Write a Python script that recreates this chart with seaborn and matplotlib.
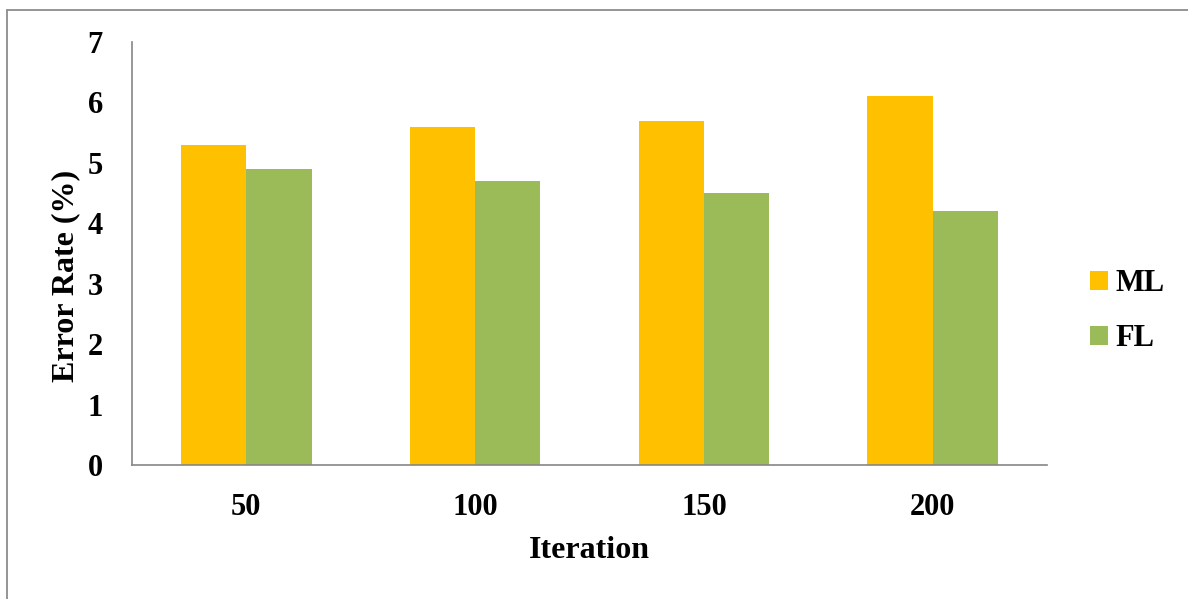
import matplotlib
matplotlib.use("Agg")
import matplotlib.pyplot as plt
import seaborn as sns
import pandas as pd
from matplotlib.patches import Patch
from matplotlib.lines import Line2D

iterations = ["50", "100", "150", "200"]
ml_error = [5.3, 5.6, 5.7, 6.1]
fl_error = [4.9, 4.7, 4.5, 4.2]
series_names = ["ML", "FL"]
y_ticks = [0, 1, 2, 3, 4, 5, 6, 7]

df = pd.DataFrame({
    "Iteration": iterations * 2,
    "Error": ml_error + fl_error,
    "Model": [series_names[0]] * 4 + [series_names[1]] * 4,
})

sns.set_style("white")
plt.rcParams["font.family"] = ["Liberation Serif", "DejaVu Serif"]
plt.rcParams["font.weight"] = "bold"
plt.rcParams["text.color"] = "black"
plt.rcParams["axes.labelcolor"] = "black"

palette = {"ML": "#FFC000", "FL": "#9BBB59"}
axis_gray = "#868686"

W, H = 1188, 599
fig = plt.figure(figsize=(W / 100, H / 100), dpi=100)
ax = fig.add_axes([132 / W, 1 - 465 / H, (1047 - 132) / W, (465 - 42) / H])

sns.barplot(data=df, x="Iteration", y="Error", hue="Model", palette=palette,
            width=0.57, saturation=1, ax=ax, legend=False, linewidth=0)

ax.set_xlim(-0.5, 3.5)
ax.set_ylim(0, 7)
ax.set_yticks(y_ticks)
ax.set_yticklabels([str(t) for t in y_ticks], fontsize=22, fontweight="bold")
ax.set_xticks(range(len(iterations)))
ax.set_xticklabels(iterations, fontsize=22, fontweight="bold")
ax.set_xticks([-0.5, 0.5, 1.5, 2.5, 3.5], minor=True)
ax.tick_params(axis="x", which="major", length=0, pad=20, labelcolor="black")
ax.tick_params(axis="x", which="minor", length=7, width=1, color=axis_gray, direction="out")
ax.tick_params(axis="y", length=7, width=1, color=axis_gray, direction="out",
               pad=14, labelcolor="black")

for side in ["top", "right"]:
    ax.spines[side].set_visible(False)
for side in ["left", "bottom"]:
    ax.spines[side].set_color(axis_gray)
    ax.spines[side].set_linewidth(1.2)

ax.set_xlabel("Iteration", fontsize=23, fontweight="bold")
ax.set_ylabel("Error Rate (%)", fontsize=23, fontweight="bold")
ax.xaxis.set_label_coords(0.5, -(551 - 465) / (465 - 42), transform=ax.transAxes)
ax.yaxis.set_label_coords(-(132 - 66) / (1047 - 132), (465 - 276) / (465 - 42),
                          transform=ax.transAxes)
ax.xaxis.label.set_verticalalignment("center")
ax.yaxis.label.set_verticalalignment("center")

handles = [Patch(facecolor=palette[n], edgecolor="none") for n in series_names]
fig.legend(handles, series_names, loc="center left",
           bbox_to_anchor=(1062 / W, 1 - 311 / H), frameon=False,
           prop={"family": "Liberation Serif", "weight": "bold", "size": 22},
           handlelength=0.6, handleheight=0.6, handletextpad=0.25, labelspacing=0.85)

# outer frame: left and top edges
fig.add_artist(Line2D([7 / W, 7 / W], [0, 1 - 10 / H], transform=fig.transFigure,
                      color="#8c8c8c", linewidth=1.3))
fig.add_artist(Line2D([7 / W, 1], [1 - 10 / H, 1 - 10 / H], transform=fig.transFigure,
                      color="#8c8c8c", linewidth=1.3))

fig.savefig("out.png", dpi=100, facecolor="white")
